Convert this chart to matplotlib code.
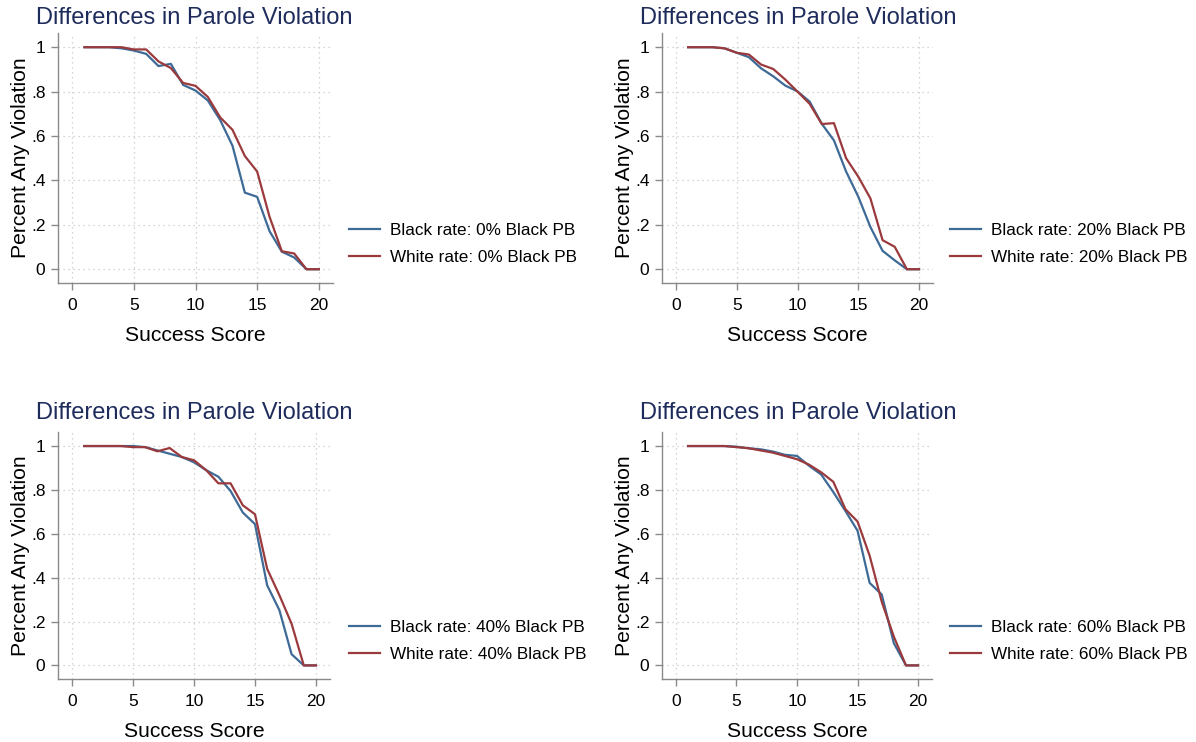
import matplotlib
matplotlib.use('Agg')
import matplotlib.pyplot as plt

plt.rcParams['font.family'] = ['Liberation Sans', 'DejaVu Sans']

score = list(range(1, 21))
shares = ['0%', '20%', '40%', '60%']

black_0 = [1, 1, 1, 0.995, 0.985, 0.97, 0.915, 0.925, 0.83, 0.805,
           0.76, 0.672, 0.556, 0.345, 0.326, 0.172, 0.079, 0.053, 0, 0]
white_0 = [1, 1, 1, 1, 0.99, 0.99, 0.936, 0.906, 0.839, 0.826,
           0.776, 0.684, 0.628, 0.51, 0.44, 0.237, 0.081, 0.071, 0, 0]

black_20 = [1, 1, 1, 0.995, 0.975, 0.955, 0.905, 0.869, 0.827, 0.801,
            0.755, 0.655, 0.58, 0.44, 0.327, 0.19, 0.083, 0.04, 0, 0]
white_20 = [1, 1, 1, 0.995, 0.975, 0.967, 0.922, 0.902, 0.854, 0.80,
            0.745, 0.654, 0.658, 0.5, 0.417, 0.319, 0.131, 0.101, 0, 0]

black_40 = [1, 1, 1, 1, 1, 0.995, 0.98, 0.965, 0.95, 0.926,
            0.89, 0.86, 0.795, 0.697, 0.644, 0.365, 0.252, 0.051, 0, 0]
white_40 = [1, 1, 1, 1, 0.995, 0.995, 0.976, 0.991, 0.95, 0.935,
            0.89, 0.83, 0.83, 0.73, 0.689, 0.44, 0.32, 0.19, 0, 0]

black_60 = [1, 1, 1, 1, 0.997, 0.99, 0.985, 0.975, 0.96, 0.955,
            0.91, 0.87, 0.79, 0.704, 0.614, 0.376, 0.323, 0.101, 0, 0]
white_60 = [1, 1, 1, 1, 0.995, 0.99, 0.98, 0.97, 0.955, 0.94,
            0.915, 0.88, 0.837, 0.712, 0.656, 0.5, 0.29, 0.131, 0, 0]

black_rates = [black_0, black_20, black_40, black_60]
white_rates = [white_0, white_20, white_40, white_60]

blue = '#3d6a96'
red = '#9b3a3d'
navy = '#1e2c5c'
axis_gray = '#8a8a8a'

W, H = 1196, 742
fig = plt.figure(figsize=(W / 100, H / 100), dpi=100)

# pixel boxes of each plot region: left, right, top, bottom
boxes = [(58, 333, 33, 283), (662, 933, 33, 283),
         (58, 330, 432, 679), (662, 932, 432, 679)]
title_pos = [(36, 18), (640, 18), (36, 413), (640, 413)]
legend_pos = [(349, 244), (950, 244), (349, 641), (950, 641)]

for i in range(4):
    l, r, t, b = boxes[i]
    ax = fig.add_axes([l / W, 1 - b / H, (r - l) / W, (b - t) / H])
    ax.plot(score, black_rates[i], color=blue, lw=1.6,
            label='Black rate: ' + shares[i] + ' Black PB')
    ax.plot(score, white_rates[i], color=red, lw=1.6,
            label='White rate: ' + shares[i] + ' Black PB')
    ax.set_xlim(-1.15, 21.15)
    ax.set_ylim(-0.062, 1.064)
    ax.set_xticks([0, 5, 10, 15, 20])
    ax.set_yticks([0, 0.2, 0.4, 0.6, 0.8, 1])
    ax.set_yticklabels(['0', '.2', '.4', '.6', '.8', '1'])
    ax.grid(True, color='#c8c8c8', linestyle=(0, (1, 3)), linewidth=0.9)
    for s in ['top', 'right']:
        ax.spines[s].set_visible(False)
    for s in ['left', 'bottom']:
        ax.spines[s].set_color(axis_gray)
        ax.spines[s].set_linewidth(1.0)
    ax.tick_params(colors=axis_gray, labelcolor='black', labelsize=12.5,
                   length=5, width=1.0)
    ax.tick_params(axis='y', pad=4)
    ax.tick_params(axis='x', pad=6)
    ax.set_xlabel('Success Score', fontsize=15.2, labelpad=9)
    ax.set_ylabel('Percent Any Violation', fontsize=15.2, labelpad=1)

    tx, ty = title_pos[i]
    fig.text(tx / W, 1 - ty / H, 'Differences in Parole Violation',
             color=navy, fontsize=17, ha='left', va='center')

    lx, ly = legend_pos[i]
    h, lab = ax.get_legend_handles_labels()
    fig.legend(h, lab, loc='center left', bbox_to_anchor=(lx / W, 1 - ly / H),
               frameon=False, fontsize=12.3, handlelength=1.8,
               handletextpad=0.6, labelspacing=0.65, borderpad=0,
               borderaxespad=0)

fig.savefig('out.png', dpi=100)
